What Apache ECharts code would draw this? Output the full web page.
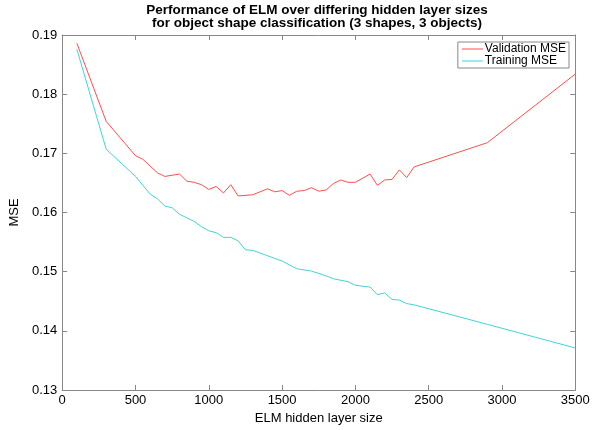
<!DOCTYPE html>
<html><head><meta charset="utf-8">
<script src="https://cdn.jsdelivr.net/npm/echarts@6/dist/echarts.min.js"></script>
<style>html,body{margin:0;padding:0;background:#fff}#c{width:599px;height:430px}</style>
</head><body><div id="c"></div>
<script>
const titleLines = ['Performance of ELM over differing hidden layer sizes', 'for object shape classification (3 shapes, 3 objects)'];
const xLabel = 'ELM hidden layer size';
const yLabel = 'MSE';
const valSizes = [100,300,500,550,650,700,800,850,900,950,1000,1050,1100,1150,1200,1300,1400,1450,1500,1550,1600,1650,1700,1750,1800,1850,1900,1950,2000,2100,2150,2200,2250,2300,2350,2400,2900,3500];
const valMSE   = [0.1886,0.1754,0.1696,0.1690,0.1667,0.1661,0.1665,0.1653,0.1651,0.1647,0.1639,0.1644,0.1633,0.1647,0.1628,0.1630,0.1640,0.1635,0.1637,0.1629,0.1636,0.1637,0.1642,0.1636,0.1638,0.1649,0.1655,0.1651,0.1651,0.1665,0.1646,0.1655,0.1656,0.1672,0.1659,0.1677,0.1718,0.1834];
const trainSizes = [100,300,500,600,650,700,750,800,900,950,1000,1050,1100,1150,1200,1250,1300,1400,1500,1600,1700,1800,1850,1950,2000,2100,2150,2200,2250,2300,2350,2400,2900,3500];
const trainMSE   = [0.1876,0.1707,0.1661,0.1631,0.1623,0.1611,0.1608,0.1597,0.1585,0.1576,0.1569,0.1566,0.1558,0.1558,0.1552,0.1537,0.1536,0.1527,0.1518,0.1505,0.1501,0.1493,0.1488,0.1483,0.1477,0.1474,0.1461,0.1464,0.1453,0.1452,0.1446,0.1444,0.1411,0.1371];
const xTicks = [0,500,1000,1500,2000,2500,3000,3500];
const yTicks = [0.13,0.14,0.15,0.16,0.17,0.18,0.19];

const chart = echarts.init(document.getElementById('c'), null, {renderer:'canvas'});
const font = 'Liberation Sans, Arial, Helvetica, sans-serif';
const axisCommon = {
  axisLine:{show:true,onZero:false,lineStyle:{color:'#888',width:1}},
  axisTick:{show:true,inside:true,length:5,lineStyle:{color:'#888'}},
  splitLine:{show:false}
};
chart.setOption({
  animation:false,
  backgroundColor:'#fff',
  title:{text:titleLines.join('\n'),left:317,textAlign:'center',top:4,padding:0,
    textStyle:{fontFamily:font,fontSize:13.5,fontWeight:'bold',color:'#000',lineHeight:13}},
  legend:{right:30,top:42,orient:'vertical',itemWidth:21,itemHeight:1,itemGap:0,
    backgroundColor:'#fff',borderColor:'#888',borderWidth:1,borderRadius:0,padding:[1,3,1,4],
    textStyle:{fontFamily:font,fontSize:12,color:'#000',lineHeight:12,padding:[0,0,0,-3]},
    data:[{name:'Validation MSE',icon:'rect'},{name:'Training MSE',icon:'rect'}]},
  grid:{left:59,right:23.7,top:35,bottom:34.3,containLabel:false},
  xAxis:[
    Object.assign({type:'value',min:xTicks[0],max:xTicks[xTicks.length-1],interval:500,position:'bottom',
      name:xLabel,nameLocation:'middle',nameGap:22,
      nameTextStyle:{fontFamily:font,fontSize:13,color:'#000'},
      axisLabel:{fontFamily:font,fontSize:13,color:'#000',margin:4,formatter:v=>String(v)}},axisCommon),
    Object.assign({type:'value',min:0,max:3500,interval:500,position:'top',axisLabel:{show:false}},axisCommon)
  ],
  yAxis:[
    Object.assign({type:'value',min:yTicks[0],max:yTicks[yTicks.length-1],interval:0.01,position:'left',
      name:yLabel,nameLocation:'middle',nameGap:31,
      nameTextStyle:{fontFamily:font,fontSize:13,color:'#000'},
      axisLabel:{fontFamily:font,fontSize:13,color:'#000',margin:5,formatter:v=>String(+v.toFixed(2))}},axisCommon),
    Object.assign({type:'value',min:0.13,max:0.19,interval:0.01,position:'right',axisLabel:{show:false}},axisCommon)
  ],
  series:[
    {name:'Validation MSE',type:'line',symbol:'none',xAxisIndex:0,yAxisIndex:0,
     lineStyle:{color:'#ff4f4f',width:1},itemStyle:{color:'#ff4f4f'},
     data:valSizes.map((s,i)=>[s,valMSE[i]])},
    {name:'Training MSE',type:'line',symbol:'none',xAxisIndex:0,yAxisIndex:0,
     lineStyle:{color:'#3fd6d6',width:1},itemStyle:{color:'#3fd6d6'},
     data:trainSizes.map((s,i)=>[s,trainMSE[i]])}
  ]
});
</script></body></html>
